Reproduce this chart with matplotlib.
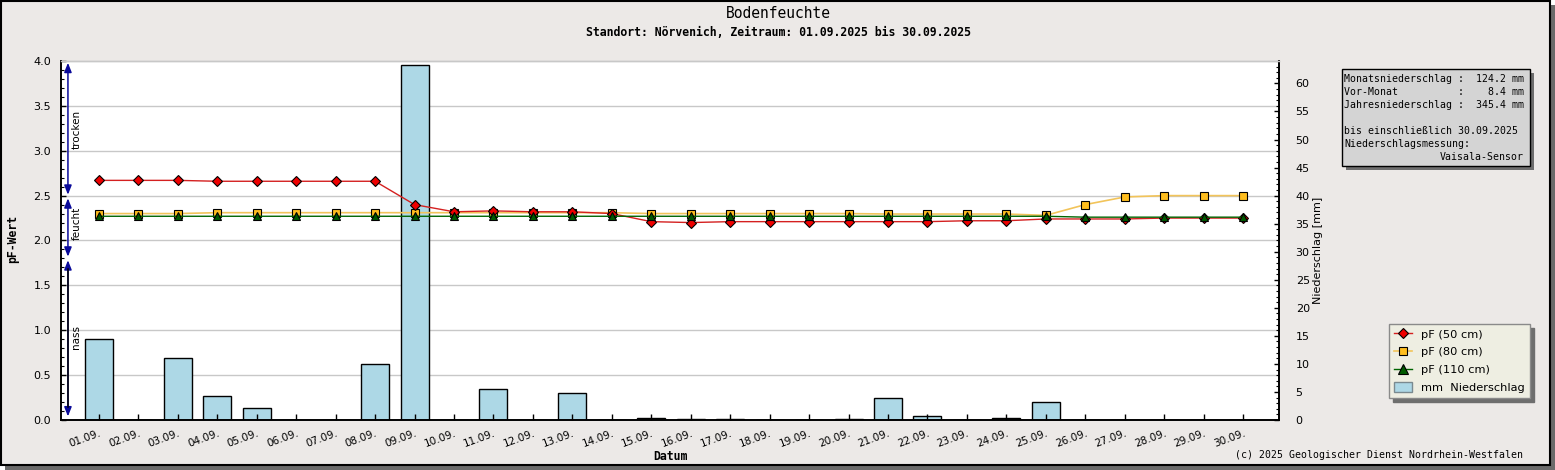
import matplotlib
matplotlib.use('Agg')
import matplotlib.pyplot as plt
from matplotlib.patches import Rectangle, Patch
from matplotlib.lines import Line2D
from matplotlib.transforms import ScaledTranslation
from matplotlib.ticker import MultipleLocator, FixedLocator

W, H = 1555, 470

# ---------------- data ----------------
days = list(range(1, 31))
tick_labels = [f"{d:02d}.09." for d in days]
pf50 = [2.67, 2.67, 2.67, 2.66, 2.66, 2.66, 2.66, 2.66, 2.40, 2.32,
        2.33, 2.32, 2.32, 2.30, 2.21, 2.20, 2.21, 2.21, 2.21, 2.21,
        2.21, 2.21, 2.22, 2.22, 2.24, 2.24, 2.24, 2.25, 2.25, 2.25]
pf80 = [2.30, 2.30, 2.30, 2.31, 2.31, 2.31, 2.31, 2.31, 2.31, 2.31,
        2.31, 2.31, 2.31, 2.31, 2.30, 2.30, 2.30, 2.30, 2.30, 2.30,
        2.295, 2.295, 2.295, 2.295, 2.28, 2.40, 2.485, 2.50, 2.50, 2.50]
pf110 = [2.27, 2.27, 2.27, 2.27, 2.27, 2.27, 2.27, 2.27, 2.27, 2.27,
         2.27, 2.27, 2.27, 2.27, 2.27, 2.27, 2.27, 2.27, 2.27, 2.27,
         2.27, 2.27, 2.27, 2.27, 2.27, 2.26, 2.26, 2.26, 2.26, 2.26]
rain = [14.5, 0, 11.0, 4.2, 2.1, 0, 0, 9.9, 63.2, 0,
        5.6, 0, 4.75, 0, 0.3, 0.1, 0.1, 0, 0, 0.1,
        3.9, 0.65, 0, 0.3, 3.15, 0, 0, 0, 0, 0]
legend_labels = ["pF (50 cm)", "pF (80 cm)", "pF (110 cm)", "mm  Niederschlag"]
info_lines = ["Monatsniederschlag :  124.2 mm",
              "Vor-Monat          :    8.4 mm",
              "Jahresniederschlag :  345.4 mm",
              "bis einschließlich 30.09.2025",
              "Niederschlagsmessung:",
              "Vaisala-Sensor"]
zones = [("trocken", 3.98, 2.51, 3.24), ("feucht", 2.47, 1.82, 2.19), ("nass", 1.78, 0.04, 0.92)]

BG = '#ECE9E7'
MONO = 'DejaVu Sans Mono'


def fx(x):
    return x / W


def fy(y):
    return 1 - y / H


fig = plt.figure(figsize=(W / 100, H / 100), dpi=100, facecolor='white')

# frame + shadow
fig.add_artist(Rectangle((fx(5), fy(470)), fx(1550), 465 / H, transform=fig.transFigure,
                         facecolor='#6a6a6a', edgecolor='none', zorder=-20))
fig.add_artist(Rectangle((fx(0.5), fy(465)), fx(1549.5), 464.5 / H, transform=fig.transFigure,
                         facecolor=BG, edgecolor='black', lw=1.5, zorder=-19))

ax = fig.add_axes([fx(61), fy(420), 1218 / W, 359 / H])
ax2 = ax.twinx()
ax.set_zorder(2)
ax.patch.set_visible(False)
ax2.patch.set_visible(True)
ax2.patch.set_facecolor('white')

# bars on right axis
ax2.bar(days, rain, width=0.71, color='#ADD8E6', edgecolor='black', linewidth=1.0, zorder=2)
ax2.set_ylim(0, 64)
for v in [0.5, 1, 1.5, 2, 2.5, 3, 3.5]:
    ax2.axhline(v * 16, color='#C8C8C8', lw=1, zorder=0)

# lines on left axis
ax.plot(days, pf50, color='#D42020', lw=1.0, marker='D', ms=5.0, mfc='#EE0000', mec='black', mew=0.8, zorder=5)
ax.plot(days, pf80, color='#F2C45A', lw=1.2, marker='s', ms=5.2, mfc='#FFBE1E', mec='black', mew=0.8, zorder=4)
ax.plot(days, pf110, color='#006400', lw=1.0, marker='^', ms=6.0, mfc='#005A00', mec='black', mew=0.8, zorder=6)

ax.set_xlim(0.04, 30.91)
ax.set_ylim(0, 4.0)
ax.yaxis.set_major_locator(MultipleLocator(0.5))
ax.yaxis.set_minor_locator(MultipleLocator(0.1))
ax.set_yticklabels([f"{v:.1f}" for v in ax.get_yticks()])
ax.set_xticks(days)
ax.set_xticklabels(tick_labels, rotation=20, ha='right', va='top', rotation_mode='anchor', fontsize=7.5)
off = ScaledTranslation(-10 / 100, 0, fig.dpi_scale_trans)
for lab in ax.get_xticklabels():
    lab.set_transform(lab.get_transform() + off)
ax.tick_params(axis='x', direction='in', length=4.5, width=1, pad=6, color='black')
ax.tick_params(axis='y', which='major', direction='in', length=3.5, width=1, pad=7, labelsize=8)
ax.tick_params(axis='y', which='minor', direction='in', length=2.5, width=0.8)
ax2.tick_params(axis='x', which='both', bottom=False, top=False)

ax2.yaxis.set_major_locator(FixedLocator(list(range(0, 61, 5))))
ax2.yaxis.set_minor_locator(MultipleLocator(1))
ax2.tick_params(axis='y', which='major', direction='in', length=3.5, width=1, pad=12, labelsize=8)
ax2.tick_params(axis='y', which='minor', direction='in', length=2.5, width=0.8)

for a in (ax, ax2):
    a.spines['top'].set_color('#C8C8C8')
    a.spines['left'].set_color('black')
    a.spines['right'].set_color('black')
    a.spines['bottom'].set_color('black')
    for s in a.spines.values():
        s.set_linewidth(1.2)
    a.spines['top'].set_linewidth(1.0)

# moisture zone arrows
ytr = ax.get_yaxis_transform()
xa = 0.0057
for name, ytop, ybot, ytxt in zones:
    ax.annotate('', xy=(xa, ytop), xytext=(xa, ybot), xycoords=ytr, textcoords=ytr,
                arrowprops=dict(arrowstyle='<|-|>,head_length=0.55,head_width=0.22',
                                color='#0A0A9A', lw=1.1, shrinkA=0, shrinkB=0), zorder=7)
    if name == 'nass':
        ax.plot([xa, xa], [ytop - 0.1, ybot + 0.1], transform=ytr, color='black', lw=1.1, zorder=8)
    ax.text(0.0127, ytxt, name, transform=ytr, rotation=90, ha='center', va='center',
            fontsize=7.5, zorder=8)

# titles & labels
fig.text(fx(778), fy(14), "Bodenfeuchte", family=MONO, fontsize=10.5, ha='center', va='center')
fig.text(fx(778), fy(33), "Standort: Nörvenich, Zeitraum: 01.09.2025 bis 30.09.2025",
         family=MONO, fontweight='bold', fontsize=8.3, ha='center', va='center')
fig.text(fx(13), fy(239), "pF-Wert", family=MONO, fontweight='bold', fontsize=8.3,
         rotation=90, ha='center', va='center')
fig.text(fx(1318), fy(250), "Niederschlag [mm]", fontsize=8, rotation=90, ha='center', va='center')
fig.text(fx(670), fy(457), "Datum", family=MONO, fontweight='bold', fontsize=8.3, ha='center', va='center')
fig.text(fx(1523), fy(455), "(c) 2025 Geologischer Dienst Nordrhein-Westfalen", family=MONO,
         fontsize=7.1, ha='right', va='center')

# info box
fig.add_artist(Rectangle((fx(1346), fy(170)), 188 / W, 97.5 / H, transform=fig.transFigure,
                         facecolor='#6e6e6e', edgecolor='none', zorder=5))
fig.add_artist(Rectangle((fx(1342), fy(166)), 188 / W, 97.5 / H, transform=fig.transFigure,
                         facecolor='#D4D4D4', edgecolor='black', lw=1.0, zorder=6))
ys = [79.3, 92.3, 105.2, 130.8, 144.0, 157.0]
for i, (t, yy) in enumerate(zip(info_lines, ys)):
    if i == len(info_lines) - 1:
        fig.text(fx(1524), fy(yy), t, family=MONO, fontsize=7.1, ha='right', va='center', zorder=7)
    else:
        fig.text(fx(1344), fy(yy), t, family=MONO, fontsize=7.1, ha='left', va='center', zorder=7)

# legend
handles = [Line2D([], [], color='#D42020', lw=1.0, marker='D', ms=5.0, mfc='#EE0000', mec='black', mew=0.8),
           Line2D([], [], color='#F2C45A', lw=1.2, marker='s', ms=5.8, mfc='#FFBE1E', mec='black', mew=0.8),
           Line2D([], [], color='#006400', lw=1.0, marker='^', ms=6.5, mfc='#005A00', mec='black', mew=0.8),
           Patch(facecolor='#ADD8E6', edgecolor='#7a8a90', lw=1.0)]
leg = fig.legend(handles, legend_labels, loc='upper left', bbox_to_anchor=(fx(1389), fy(324)),
                 borderaxespad=0, fontsize=8.2, frameon=True, fancybox=False,
                 facecolor='#EEEEE2', edgecolor='#8a8a8a', framealpha=1,
                 shadow={'ox': 3, 'oy': -3, 'color': '#6e6e6e', 'alpha': 1},
                 handlelength=1.55, handleheight=0.9, handletextpad=0.8, borderpad=0.45,
                 labelspacing=0.62)
leg.get_frame().set_linewidth(1.0)

fig.savefig('out.png', dpi=100, facecolor=fig.get_facecolor())
